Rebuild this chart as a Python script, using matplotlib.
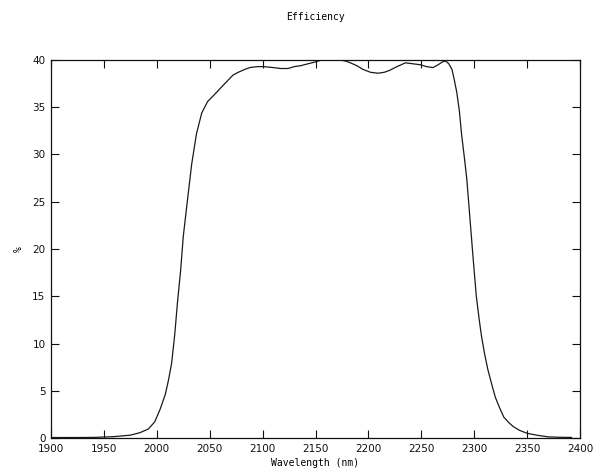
import matplotlib
matplotlib.use("Agg")
import matplotlib.pyplot as plt

# valores
wavelength = [1900, 1920, 1940, 1959, 1975, 1984, 1992, 1998, 2003, 2008,
              2011, 2014, 2017, 2019.5, 2022.5, 2025, 2029, 2033, 2037.5, 2042.5,
              2048, 2055, 2060, 2066, 2072, 2077, 2083, 2088, 2095, 2101,
              2110, 2117, 2124, 2130, 2136, 2143, 2150, 2156, 2161, 2167,
              2173, 2178, 2183, 2189, 2195, 2202, 2209, 2215, 2220, 2227,
              2235, 2242, 2249, 2255, 2261, 2266, 2270, 2273, 2276, 2279,
              2281, 2283.5, 2286, 2288, 2291, 2293, 2296, 2299, 2302, 2305,
              2307, 2310, 2313, 2317, 2320, 2324, 2328, 2333, 2337, 2343,
              2350, 2359, 2370, 2380, 2392]
efficiency = [0.05, 0.05, 0.06, 0.14, 0.3, 0.56, 0.95, 1.7, 3.0, 4.6,
              6.1, 7.9, 11.0, 14.3, 17.7, 21.3, 25.2, 29.0, 32.2, 34.4,
              35.6, 36.4, 37.0, 37.7, 38.4, 38.7, 39.0, 39.2, 39.3, 39.3,
              39.2, 39.1, 39.1, 39.3, 39.4, 39.6, 39.8, 40.0, 40.1, 40.0,
              40.0, 39.9, 39.7, 39.4, 39.0, 38.7, 38.6, 38.7, 38.9, 39.3,
              39.7, 39.6, 39.5, 39.3, 39.2, 39.5, 39.8, 39.9, 39.6, 39.0,
              38.0, 36.6, 34.6, 32.2, 29.4, 27.4, 23.2, 19.0, 15.0, 12.3,
              10.7, 8.8, 7.2, 5.5, 4.3, 3.2, 2.2, 1.6, 1.2, 0.8,
              0.5, 0.3, 0.12, 0.08, 0.06]

xticks = [1900, 1950, 2000, 2050, 2100, 2150, 2200, 2250, 2300, 2350, 2400]
yticks = [0, 5, 10, 15, 20, 25, 30, 35, 40]

fig = plt.figure(figsize=(5.94, 4.74), dpi=100)
ax = fig.add_axes([51 / 594, 36 / 474, 529 / 594, 378 / 474])

ax.plot(wavelength, efficiency, color='#1a1a1a', linewidth=0.9)

ax.set_xlim(1900, 2400)
ax.set_ylim(0, 40)
ax.set_xticks(xticks)
ax.set_yticks(yticks)
ax.tick_params(direction='in', length=6, width=0.8, top=True, right=True,
               labelsize=7.5, pad=4, colors='#111111')
for s in ax.spines.values():
    s.set_linewidth(0.9)
    s.set_color('#111111')

fig.text(0.531, 1 - 17 / 474, 'Efficiency', ha='center', va='center',
         family='DejaVu Sans Mono', fontsize=7)
ax.set_xlabel('Wavelength (nm)', family='DejaVu Sans Mono', fontsize=7, labelpad=3)
ax.set_ylabel('%', family='DejaVu Sans Mono', fontsize=7, labelpad=6)

fig.savefig('out.png', dpi=100)
